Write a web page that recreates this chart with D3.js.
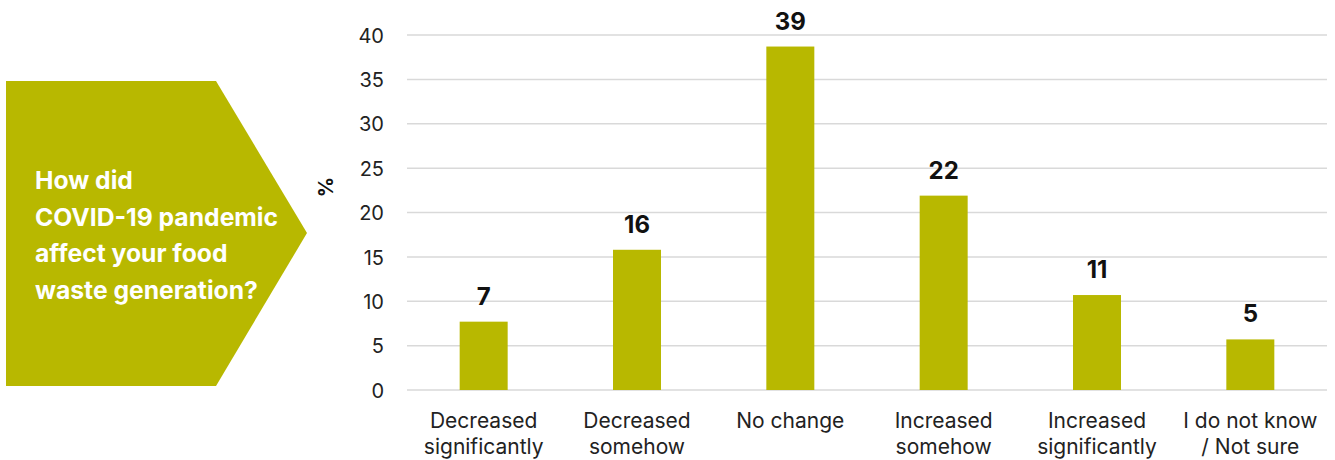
<!DOCTYPE html>
<html>
<head>
<meta charset="utf-8">
<script src="https://cdn.jsdelivr.net/npm/d3@7"></script>
<style>
  body { margin: 0; background: #fff; }
  text { font-family: Inter, Roboto, "Noto Sans", sans-serif; }
</style>
</head>
<body>
<div id="chart"></div>
<script>
var categories = [
    ["Decreased", "significantly"],
    ["Decreased", "somehow"],
    ["No change"],
    ["Increased", "somehow"],
    ["Increased", "significantly"],
    ["I do not know", "/ Not sure"]
];
var values = [7.7, 15.8, 38.7, 21.9, 10.7, 5.7];
var valueLabels = ["7", "16", "39", "22", "11", "5"];
var yTicks = [0, 5, 10, 15, 20, 25, 30, 35, 40];
var questionLines = ["How did", "COVID-19 pandemic", "affect your food", "waste generation?"];

var width = 1335, height = 460;
var plotLeft = 407, plotRight = 1327, plotTop = 35, plotBottom = 390;
var olive = "#b8b800";

var svg = d3.select("#chart")
    .append("svg")
    .attr("width", width)
    .attr("height", height);

// Arrow box with the question
svg.append("path")
    .attr("d", "M6,81 L216,81 L307,233 L216,386 L6,386 Z")
    .attr("fill", olive);

svg.append("g").selectAll("text")
    .data(questionLines)
    .enter().append("text")
    .attr("x", 35)
    .attr("y", function(d, i) { return 189 + i * 36.7; })
    .attr("fill", "white")
    .attr("font-family", "Roboto, sans-serif")
    .attr("font-size", "24.7px")
    .attr("font-weight", "bold")
    .text(function(d) { return d; });

// Scales
var xScale = d3.scaleBand()
    .domain(d3.range(categories.length))
    .range([plotLeft, plotRight])
    .paddingInner(0.687)
    .paddingOuter(0.3435);

var yScale = d3.scaleLinear()
    .domain([0, 40])
    .range([plotBottom, plotTop]);

// Gridlines
svg.append("g")
    .selectAll("line")
    .data(yTicks)
    .enter().append("line")
    .attr("x1", plotLeft)
    .attr("x2", plotRight)
    .attr("y1", function(d) { return yScale(d); })
    .attr("y2", function(d) { return yScale(d); })
    .attr("stroke", "#d9d9d9")
    .attr("stroke-width", 1.5);

// Y axis
var yAxis = svg.append("g")
    .attr("transform", "translate(" + 384 + ",0)")
    .call(d3.axisLeft(yScale).tickValues(yTicks).tickSize(0).tickPadding(0));
yAxis.select(".domain").remove();
yAxis.selectAll("text")
    .attr("font-size", "20px")
    .attr("fill", "#222")
    .attr("dy", "0.36em");

svg.append("text")
    .attr("transform", "translate(333,187) rotate(-90)")
    .attr("text-anchor", "middle")
    .attr("font-size", "20px")
    .attr("font-weight", "bold")
    .attr("fill", "#111")
    .text("%");

// Bars
svg.append("g")
    .selectAll("rect")
    .data(values)
    .enter().append("rect")
    .attr("x", function(d, i) { return xScale(i); })
    .attr("y", function(d) { return yScale(d); })
    .attr("width", xScale.bandwidth())
    .attr("height", function(d) { return plotBottom - yScale(d); })
    .attr("fill", olive);

// Value labels
svg.append("g")
    .selectAll("text")
    .data(values)
    .enter().append("text")
    .attr("x", function(d, i) { return xScale(i) + xScale.bandwidth() / 2; })
    .attr("y", function(d) { return yScale(d) - 17; })
    .attr("text-anchor", "middle")
    .attr("font-size", "24px")
    .attr("font-weight", "bold")
    .attr("fill", "#111")
    .text(function(d, i) { return valueLabels[i]; });

// Category labels
var catG = svg.append("g")
    .selectAll("text")
    .data(categories)
    .enter().append("text")
    .attr("x", function(d, i) { return xScale(i) + xScale.bandwidth() / 2; })
    .attr("y", 428)
    .attr("text-anchor", "middle")
    .attr("font-size", "21px")
    .attr("fill", "#222");
catG.selectAll("tspan")
    .data(function(d) { return d; })
    .enter().append("tspan")
    .attr("x", function() { return d3.select(this.parentNode).attr("x"); })
    .attr("dy", function(d, i) { return i === 0 ? 0 : 25.5; })
    .text(function(d) { return d; });
</script>
</body>
</html>
